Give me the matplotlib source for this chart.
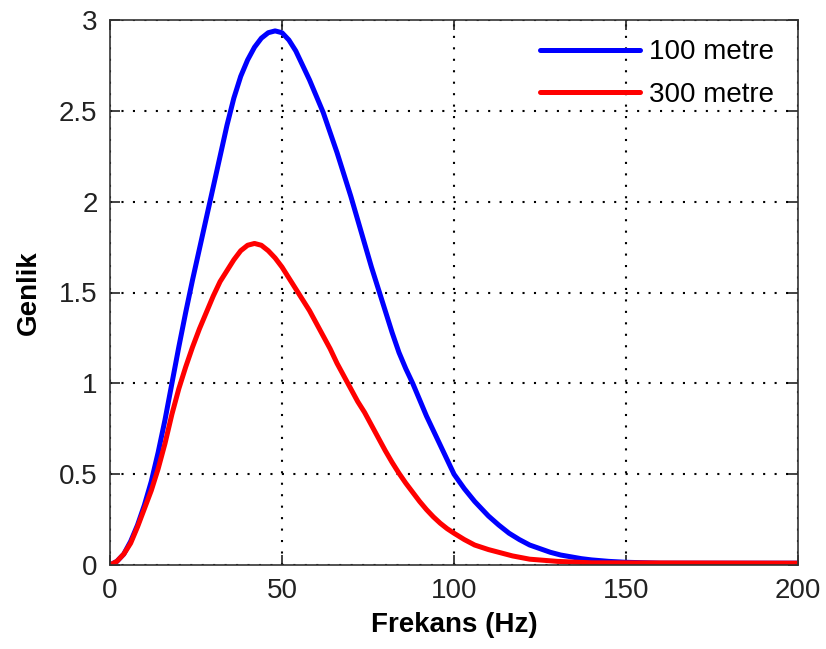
import matplotlib
matplotlib.use("Agg")
import matplotlib.pyplot as plt

# frequency (Hz) and amplitude
freq_100 = [0, 2, 4, 6, 8, 10, 12, 14, 16, 18, 20, 22, 24, 26, 28, 30, 32, 34,
            36, 38, 40, 42, 44, 46, 48, 50, 52, 54, 56, 58, 60, 62, 64, 66,
            68, 70, 72, 74, 76, 78, 80, 82, 84, 86, 88, 90, 92, 94, 96, 98,
            100, 103, 106, 110, 113, 116, 119, 122, 125, 128, 131, 134, 137,
            140, 145, 150, 160, 200]
amp_100 = [0, 0.02, 0.06, 0.13, 0.22, 0.33, 0.46, 0.62, 0.80, 1.0, 1.2, 1.39,
           1.57, 1.74, 1.91, 2.08, 2.25, 2.42, 2.57, 2.69, 2.78, 2.85, 2.90,
           2.93, 2.94, 2.93, 2.89, 2.83, 2.75, 2.67, 2.58, 2.49, 2.38, 2.27,
           2.15, 2.03, 1.90, 1.77, 1.64, 1.52, 1.40, 1.28, 1.17, 1.08, 1.0,
           0.91, 0.82, 0.74, 0.66, 0.58, 0.50, 0.42, 0.35, 0.27, 0.22, 0.175,
           0.14, 0.11, 0.09, 0.07, 0.055, 0.045, 0.035, 0.028, 0.02, 0.015,
           0.01, 0.01]

freq_300 = [0, 2, 4, 6, 8, 10, 12, 14, 16, 18, 20, 22, 24, 26, 28, 30, 32, 34,
            36, 38, 40, 42, 44, 46, 48, 50, 52, 54, 56, 58, 60, 62, 64, 66,
            68, 70, 72, 74, 76, 78, 80, 82, 84, 86, 88, 90, 92, 94, 96, 98,
            100, 103, 106, 110, 113, 117, 122, 130, 140, 200]
amp_300 = [0, 0.02, 0.06, 0.12, 0.21, 0.31, 0.41, 0.53, 0.67, 0.83, 0.97,
           1.09, 1.2, 1.3, 1.39, 1.48, 1.56, 1.62, 1.68, 1.73, 1.76, 1.77,
           1.76, 1.73, 1.69, 1.64, 1.58, 1.52, 1.46, 1.40, 1.33, 1.26, 1.19,
           1.11, 1.04, 0.97, 0.90, 0.84, 0.77, 0.70, 0.63, 0.565, 0.505, 0.45,
           0.40, 0.35, 0.305, 0.265, 0.23, 0.20, 0.175, 0.14, 0.11, 0.085,
           0.07, 0.05, 0.032, 0.02, 0.012, 0.01]

labels = ["100 metre", "300 metre"]
xticks = [0, 50, 100, 150, 200]
yticks = [0, 0.5, 1, 1.5, 2, 2.5, 3]

plt.rcParams['font.family'] = ['Liberation Sans', 'DejaVu Sans']
fs = 20

fig = plt.figure(figsize=(8.26, 6.49), dpi=100)
ax = fig.add_axes([110/826, 1 - 565/649, 688/826, 545/649])

ax.plot(freq_100, amp_100, color='#0000ff', lw=3.6, label=labels[0],
        solid_joinstyle='round', solid_capstyle='round')
ax.plot(freq_300, amp_300, color='#ff0000', lw=3.6, label=labels[1],
        solid_joinstyle='round', solid_capstyle='round')

ax.set_xlim(0, 200)
ax.set_ylim(0, 3)
ax.set_xticks(xticks)
ax.set_yticks(yticks)
ax.set_xticklabels([str(t) for t in xticks])
ax.set_yticklabels(["0", "0.5", "1", "1.5", "2", "2.5", "3"])
ax.tick_params(direction='in', length=7, width=1.2, top=True, right=True,
               labelsize=fs, colors='#222222', pad=9)
ax.grid(True, color='black', linestyle=(0, (1, 4.5)), lw=1.5)
for s in ax.spines.values():
    s.set_color('#333333')
    s.set_linewidth(1.2)

ax.set_xlabel("Frekans (Hz)", fontsize=fs, fontweight='bold', labelpad=6)
ax.set_ylabel("Genlik", fontsize=fs, fontweight='bold', labelpad=12)

ax.legend(loc='upper right', frameon=False, fontsize=fs, handlelength=3.6,
          handletextpad=0.3, labelspacing=0.6, borderaxespad=0.1,
          bbox_to_anchor=(0.985, 0.99))

fig.savefig("out.png", dpi=100)
